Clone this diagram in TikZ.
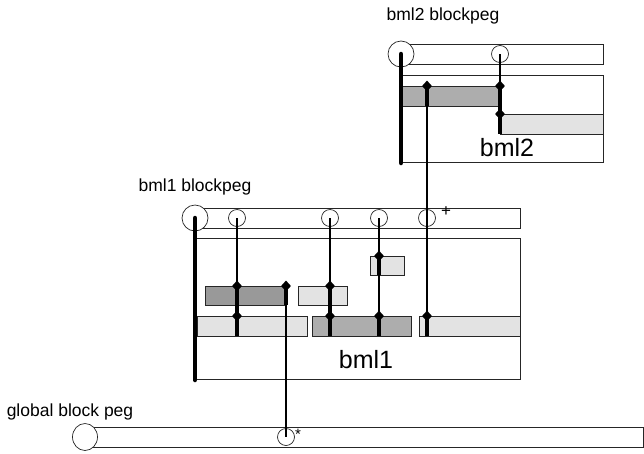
\documentclass[tikz,border=0pt]{standalone}
\usepackage{fontspec}
\setmainfont{Liberation Sans}
\usetikzlibrary{shapes.geometric}
\definecolor{bardark}{HTML}{999999}
\definecolor{barmid}{HTML}{ADADAD}
\definecolor{barlight}{HTML}{E3E3E3}
% rectangle node given by its top-left and bottom-right corners (in px)
\newcommand\rectnode[6]{\node[#1, anchor=north west,
  minimum width={(#5-#3)*1pt}, minimum height={(#6-#4)*1pt}] (#2) at (#3,#4) {};}
\begin{document}
\begin{tikzpicture}[x=1pt,y=-1pt,
  frame/.style={draw=black!85, line width=0.7pt, fill=white, inner sep=0pt, outer sep=0pt},
  block/.style={draw=black!85, line width=0.7pt, inner sep=0pt, outer sep=0pt},
  darkbar/.style={block, fill=bardark},
  midbar/.style={block, fill=barmid},
  lightbar/.style={block, fill=barlight},
  peghole/.style={circle, draw=black!85, line width=0.7pt, fill=white, inner sep=0pt, minimum size=17pt},
  bigpeg/.style={peghole, minimum size=26pt},
  tipmark/.style={diamond, fill=black, inner sep=0pt, minimum width=10pt, minimum height=11pt},
  wire/.style={line width=1.2pt},
  shaft/.style={line width=4pt},
  spine/.style={line width=4.5pt, line cap=round},
  caption/.style={font=\fontsize{17.5}{20}\selectfont},
  title/.style={font=\fontsize{25}{30}\selectfont},
]
\useasboundingbox (0,0) rectangle (644,453);

% ---------------- bml2 ----------------
\node[caption] (t2) at (443,16) {bml2 blockpeg};
\rectnode{frame}{peg2}{401}{44}{603}{64}
\rectnode{frame}{box2}{401}{75}{603}{162}
\rectnode{midbar}{b2a}{401}{86}{500}{106}
\rectnode{lightbar}{b2b}{500}{114}{603}{134}
\node[title] (n2) at (507,148) {bml2};
\node[bigpeg] (P2) at (401,54) {};
\node[peghole] (h2a) at (500,54) {};
\coordinate (P2end) at (401,163);
\draw[spine] (P2.center) -- (P2end);

% ---------------- bml1 ----------------
\node[caption] (t1) at (195,187) {bml1 blockpeg};
\rectnode{frame}{peg1}{195}{208}{520}{228}
\rectnode{frame}{box1}{196}{238}{520}{379}
\rectnode{lightbar}{b1s}{370}{256}{404}{275}
\rectnode{darkbar}{b1a}{205}{286}{286}{305}
\rectnode{lightbar}{b1b}{298}{286}{347}{305}
\rectnode{lightbar}{b1c}{197}{316}{307}{336}
\rectnode{midbar}{b1d}{312}{316}{411}{336}
\rectnode{lightbar}{b1e}{419}{316}{520}{336}
\node[title] (n1) at (366,360) {bml1};
\node[bigpeg] (P1) at (195,218) {};
\node[peghole] (h1a) at (237,218) {};
\node[peghole] (h1b) at (330,218) {};
\node[peghole] (h1c) at (379,218) {};
\node[peghole] (h1d) at (427,218) {};
\node (plus) at (446,212) {\fontsize{17}{19}\selectfont +};
\coordinate (P1end) at (195,380);
\draw[spine] (P1.center) -- (P1end);

% ---------------- global ----------------
\node[caption] (tg) at (70,412) {global block peg};
\rectnode{frame}{pegg}{85}{427}{643.5}{447}
\node[bigpeg, minimum width=25pt, minimum height=27pt, ellipse] (PG) at (85,437) {};
\node[peghole] (hg) at (286,437) {};
\node (star) at (298,434) {\fontsize{15}{17}\selectfont *};

% ---------------- pegs in bml2 ----------------
\draw[wire] (h2a.center) -- (h2a.center |- b2a.north);
\draw[shaft] (h2a.center |- b2a.north) -- (h2a.center |- b2b.south);
\node[tipmark] (k2a) at (h2a.center |- b2a.north) {};
\node[tipmark] (k2b) at (h2a.center |- b2b.north) {};

\coordinate (x2) at (427,86);
\draw[shaft] (x2) -- (x2 |- b2a.south);
\draw[wire] (x2) -- (h1d.center) -- (h1d.center |- b1e.north);
\node[tipmark] (k2c) at (x2) {};

% ---------------- pegs in bml1 ----------------
\draw[wire] (h1a.center) -- (h1a.center |- b1a.north);
\draw[shaft] (h1a.center |- b1a.north) -- (h1a.center |- b1c.south);
\node[tipmark] (k1a) at (h1a.center |- b1a.north) {};
\node[tipmark] (k1b) at (h1a.center |- b1c.north) {};

\draw[wire] (h1b.center) -- (h1b.center |- b1b.north);
\draw[shaft] (h1b.center |- b1b.north) -- (h1b.center |- b1d.south);
\node[tipmark] (k1c) at (h1b.center |- b1b.north) {};
\node[tipmark] (k1d) at (h1b.center |- b1d.north) {};

\draw[wire] (h1c.center) -- (h1c.center |- b1d.north);
\draw[shaft] (h1c.center |- b1s.north) -- (h1c.center |- b1s.south);
\draw[shaft] (h1c.center |- b1d.north) -- (h1c.center |- b1d.south);
\node[tipmark] (k1e) at (h1c.center |- b1s.north) {};
\node[tipmark] (k1f) at (h1c.center |- b1d.north) {};

\draw[shaft] (h1d.center |- b1e.north) -- (h1d.center |- b1e.south);
\node[tipmark] (k1g) at (h1d.center |- b1e.north) {};

\coordinate (x1) at (286,286);
\draw[shaft] (x1) -- (x1 |- b1a.south);
\draw[wire] (x1) -- (hg.center);
\node[tipmark] (k1h) at (x1) {};
\end{tikzpicture}
\end{document}
